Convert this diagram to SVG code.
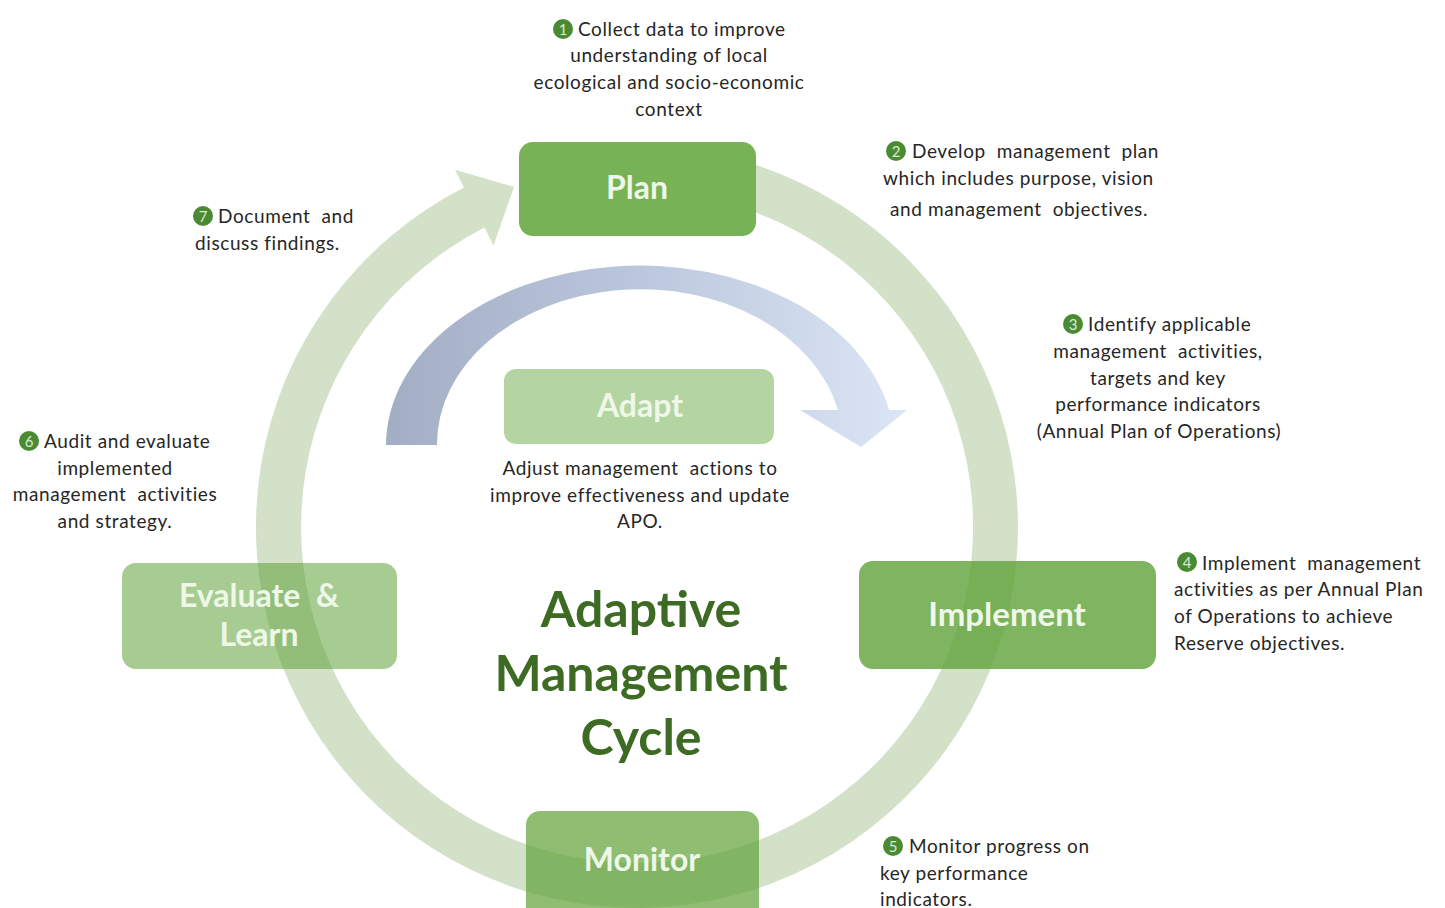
<svg xmlns="http://www.w3.org/2000/svg" width="1445" height="908" viewBox="0 0 1445 908">
  <defs>
    <linearGradient id="adaptGrad" x1="386" y1="0" x2="907" y2="0" gradientUnits="userSpaceOnUse">
      <stop offset="0" stop-color="#a3aec4"/>
      <stop offset="0.45" stop-color="#b9c5db"/>
      <stop offset="1" stop-color="#dbe5f5"/>
    </linearGradient>
    <style>
      .box { fill: #5fa338; }
      .boxlabel { font-family: Lato, "Open Sans", sans-serif; font-weight: bold; fill: #eef7e8; text-anchor: middle; }
      .note { font-family: Lato, "Open Sans", sans-serif; font-size: 19px; letter-spacing: 0.6px; fill: #262626; }
      .mid { text-anchor: middle; }
      .badge { fill: #4a8a33; }
      .badgenum { font-family: Lato, "Open Sans", sans-serif; font-size: 15px; fill: #d8ecd0; text-anchor: middle; }
      .title { font-family: Lato, "Open Sans", sans-serif; font-weight: bold; font-size: 50px; fill: #3d6b24; text-anchor: middle; }
    </style>
  </defs>
  <rect width="1445" height="908" fill="#ffffff"/>

  <!-- connectors: the outer cycle ring and the inner adapt arrow -->
  <g id="connectors">
    <path id="cycle-ring" fill="#d3e1c9"
      d="M716.2,154.3 A381,381 0 1 1 464,187.5 L455,169.7 L514,187 L493.5,245.4 L484.5,227.6 A336,336 0 1 0 706.9,198.3 Z"/>
    <path id="adapt-arrow" fill="url(#adaptGrad)"
      d="M386,445 A254,180 0 0 1 889,410 L907,410 L861,447 L800,410 L838,410 A203,155 0 0 0 437,445 Z"/>
  </g>

  <!-- stage boxes -->
  <g id="plan">
    <rect x="519" y="142" width="237" height="94" rx="14" fill="#78b256"/>
    <text class="boxlabel" x="637" y="199" font-size="32">Plan</text>
  </g>
  <g id="implement">
    <rect class="box" x="859" y="561" width="297" height="108" rx="14" fill-opacity="0.8"/>
    <text class="boxlabel" x="1007" y="626" font-size="33">Implement</text>
  </g>
  <g id="monitor">
    <rect class="box" x="526" y="811" width="233" height="110" rx="14" fill-opacity="0.7"/>
    <text class="boxlabel" x="642" y="871" font-size="32">Monitor</text>
  </g>
  <g id="evaluate">
    <rect class="box" x="122" y="563" width="275" height="106" rx="14" fill-opacity="0.55"/>
    <text class="boxlabel" x="259" y="607" font-size="32" xml:space="preserve">Evaluate  &amp;</text>
    <text class="boxlabel" x="259" y="646" font-size="32">Learn</text>
  </g>
  <g id="adapt">
    <rect class="box" x="504" y="369" width="270" height="75" rx="12" fill-opacity="0.47"/>
    <text class="boxlabel" x="640" y="417" font-size="32">Adapt</text>
    <text class="note mid" x="640" y="475" xml:space="preserve">Adjust management  actions to</text>
    <text class="note mid" x="640" y="502">improve effectiveness and update</text>
    <text class="note mid" x="640" y="528">APO.</text>
  </g>

  <!-- centre title -->
  <g id="title">
    <text class="title" x="641" y="627">Adaptive</text>
    <text class="title" x="641" y="691">Management</text>
    <text class="title" x="641" y="755">Cycle</text>
  </g>

  <!-- numbered step notes -->
  <g id="step1">
    <circle class="badge" cx="563" cy="29" r="10"/>
    <text class="badgenum" x="563" y="34.5">1</text>
    <text class="note" x="578" y="36">Collect data to improve</text>
    <text class="note mid" x="669" y="62">understanding of local</text>
    <text class="note mid" x="669" y="89">ecological and socio-economic</text>
    <text class="note mid" x="669" y="116">context</text>
  </g>
  <g id="step2">
    <circle class="badge" cx="896" cy="151" r="10"/>
    <text class="badgenum" x="896" y="156.5">2</text>
    <text class="note" x="912" y="158" xml:space="preserve">Develop  management  plan</text>
    <text class="note" x="883" y="185">which includes purpose, vision</text>
    <text class="note" x="890" y="216" xml:space="preserve">and management  objectives.</text>
  </g>
  <g id="step3">
    <circle class="badge" cx="1073" cy="324" r="10"/>
    <text class="badgenum" x="1073" y="329.5">3</text>
    <text class="note" x="1088" y="331">Identify applicable</text>
    <text class="note mid" x="1158" y="358" xml:space="preserve">management  activities,</text>
    <text class="note mid" x="1158" y="385">targets and key</text>
    <text class="note mid" x="1158" y="411">performance indicators</text>
    <text class="note mid" x="1159" y="438">(Annual Plan of Operations)</text>
  </g>
  <g id="step4">
    <circle class="badge" cx="1187" cy="562" r="10"/>
    <text class="badgenum" x="1187" y="567.5">4</text>
    <text class="note" x="1202" y="570" xml:space="preserve">Implement  management</text>
    <text class="note" x="1174" y="596">activities as per Annual Plan</text>
    <text class="note" x="1174" y="623">of Operations to achieve</text>
    <text class="note" x="1174" y="650">Reserve objectives.</text>
  </g>
  <g id="step5">
    <circle class="badge" cx="893" cy="846" r="10"/>
    <text class="badgenum" x="893" y="851.5">5</text>
    <text class="note" x="909" y="853">Monitor progress on</text>
    <text class="note" x="880" y="880">key performance</text>
    <text class="note" x="880" y="906">indicators.</text>
  </g>
  <g id="step6">
    <circle class="badge" cx="29" cy="441" r="10"/>
    <text class="badgenum" x="29" y="446.5">6</text>
    <text class="note" x="44" y="448">Audit and evaluate</text>
    <text class="note mid" x="115" y="475">implemented</text>
    <text class="note mid" x="115" y="501" xml:space="preserve">management  activities</text>
    <text class="note mid" x="115" y="528">and strategy.</text>
  </g>
  <g id="step7">
    <circle class="badge" cx="203" cy="216" r="10"/>
    <text class="badgenum" x="203" y="221.5">7</text>
    <text class="note" x="218" y="223" xml:space="preserve">Document  and</text>
    <text class="note" x="195" y="250">discuss findings.</text>
  </g>
</svg>
